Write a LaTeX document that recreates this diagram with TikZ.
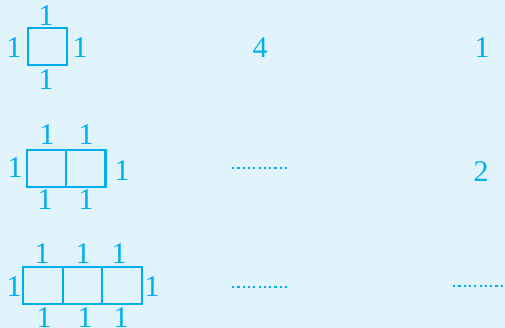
\documentclass[tikz,border=0pt]{standalone}
\usepackage{fontspec}
\setmainfont{Liberation Serif}
\definecolor{bgc}{HTML}{E1F3FB}
\definecolor{cy}{HTML}{00AEEF}
\begin{document}
\begin{tikzpicture}[x=1pt,y=-1pt,
  lab/.style={text=cy,inner sep=0pt,font=\fontsize{30}{32}\selectfont},
  cell/.style={draw=cy,line width=2.7pt},
  dotline/.style={draw=cy,line width=2.2pt,dash pattern=on 2.2pt off 3.1pt}]
\fill[bgc] (0,0) rectangle (505,328);
\useasboundingbox (0,0) rectangle (505,328);
% Row 1
\draw[cell] (28,28) rectangle (67,65);
\node[lab] (r1t) at (46,16) {1};
\node[lab] (r1l) at (14,48) {1};
\node[lab] (r1r) at (80,48) {1};
\node[lab] (r1b) at (46,80) {1};
\node[lab] (r1m) at (260,48) {4};
\node[lab] (r1n) at (482,48) {1};
% Row 2
\draw[cell] (27,150) rectangle (105.5,187);
\draw[cell] (66,150) -- (66,187);
\node[lab] (r2t1) at (47,135) {1};
\node[lab] (r2t2) at (86,135) {1};
\node[lab] (r2l) at (15,168) {1};
\node[lab] (r2r) at (122,171) {1};
\node[lab] (r2b1) at (45,200) {1};
\node[lab] (r2b2) at (86,200) {1};
\coordinate (d2a) at (232,168);
\coordinate (d2b) at (288,168);
\draw[dotline] (d2a) -- (d2b);
\node[lab] (r2n) at (481,172) {2};
% Row 3
\draw[cell] (23,267) rectangle (142,304);
\draw[cell] (63,267) -- (63,304);
\draw[cell] (102,267) -- (102,304);
\node[lab] (r3t1) at (42,254) {1};
\node[lab] (r3t2) at (83,254) {1};
\node[lab] (r3t3) at (119,254) {1};
\node[lab] (r3l) at (14,287) {1};
\node[lab] (r3r) at (152,287) {1};
\node[lab] (r3b1) at (44,318) {1};
\node[lab] (r3b2) at (85,318) {1};
\node[lab] (r3b3) at (121,318) {1};
\coordinate (d3a) at (232,287);
\coordinate (d3b) at (288,287);
\draw[dotline] (d3a) -- (d3b);
\coordinate (d4a) at (453,286);
\coordinate (d4b) at (505,286);
\draw[dotline] (d4a) -- (d4b);
\end{tikzpicture}
\end{document}
